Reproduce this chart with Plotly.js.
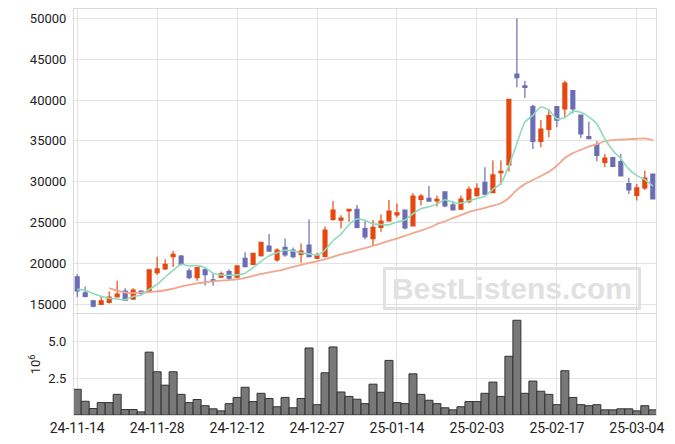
<!DOCTYPE html>
<html>
<head>
<meta charset="utf-8">
<script src="https://cdn.plot.ly/plotly-3.0.1.min.js"></script>
<style>html,body{margin:0;padding:0;background:#fff;}#chart{width:675px;height:444px;}</style>
</head>
<body>
<div id="chart"></div>
<script>
const dates = ["24-11-14","24-11-15","24-11-18","24-11-19","24-11-20","24-11-21","24-11-22","24-11-25","24-11-26","24-11-27",
"24-11-28","24-11-29","24-12-02","24-12-03","24-12-04","24-12-05","24-12-06","24-12-09","24-12-10","24-12-11",
"24-12-12","24-12-13","24-12-16","24-12-17","24-12-18","24-12-19","24-12-20","24-12-23","24-12-24","24-12-26",
"24-12-27","24-12-30","25-01-02","25-01-03","25-01-06","25-01-07","25-01-08","25-01-09","25-01-10","25-01-13",
"25-01-14","25-01-15","25-01-16","25-01-17","25-01-20","25-01-21","25-01-22","25-01-23","25-01-24","25-01-31",
"25-02-03","25-02-04","25-02-05","25-02-06","25-02-07","25-02-10","25-02-11","25-02-12","25-02-13","25-02-14",
"25-02-17","25-02-18","25-02-19","25-02-20","25-02-21","25-02-24","25-02-25","25-02-26","25-02-27","25-02-28",
"25-03-04","25-03-05","25-03-06"];

const openP = [18330,16380,15400,14950,15200,15890,16590,15610,16590,16550,
18860,19310,20800,20890,19070,18250,19200,17980,18290,18980,
18290,20610,19880,20940,22110,20410,21950,21630,21100,22240,
20620,20830,25370,25290,26430,26600,24260,23030,24390,25200,
25940,26520,24590,27830,27950,27650,28740,27150,26620,27560,
28290,29930,28660,31110,32050,43190,41750,39180,34940,36410,
39180,38900,41140,38160,35510,34530,32370,32940,32450,29760,
28330,29230,30940];

const highP = [18660,17150,15530,15950,16550,17850,16950,16950,16710,19310,
20810,20490,21500,21020,19390,19590,19550,18700,18980,19270,
19720,21340,21300,22640,23580,21830,23050,21950,22440,25370,
21300,24500,27620,25900,26640,27130,25160,25290,25980,27750,
27340,26560,28570,28480,29470,28300,28780,27640,28290,29400,
29800,31760,32580,32580,40130,50000,42370,39430,37550,38900,
39230,42370,41180,38210,37350,34940,33390,33020,33390,30450,
29720,31350,30940];

const lowP = [15850,15810,14630,14900,15080,15810,15410,15530,16140,16500,
18580,19190,19550,19720,18050,17850,17280,17250,18210,17970,
18210,19510,19800,20810,21420,20200,20810,20610,20080,20730,
20500,20700,25200,24260,25080,24260,22950,22130,23850,25080,
25610,24140,24550,27090,27540,26950,26870,26460,26540,27360,
28170,28380,28580,29600,31230,41550,40250,34000,34210,35430,
36650,37880,38370,35350,35190,32490,31760,31800,30620,28490,
27680,28980,27880];

const closeP = [16630,15940,14750,15400,15850,16220,15490,16710,16340,19190,
19310,19880,21100,19880,18250,19470,18600,17770,18700,18170,
19680,19590,21220,22560,21500,21630,21020,20810,21500,20810,
20900,24060,26520,25530,26600,24390,23240,24390,25160,26390,
26190,24350,28240,28240,27620,27830,27030,26540,27850,29070,
29190,28460,30820,31270,40090,42740,41550,34940,36450,38080,
37550,42080,38900,35840,35270,33230,32900,31880,30700,28980,
29230,30450,27880];

const ma5 = [16800,16700,16300,15950,15710,15630,15540,15930,16120,16790,
17410,18290,19160,19870,19680,19720,19460,18790,18560,18540,
18580,18780,19470,20240,20910,21300,21590,21500,21290,21150,
21010,21620,22760,23570,24720,25420,25260,24830,24760,24710,
25070,25300,26070,26680,26930,27250,27790,27450,27370,27660,
27940,28220,29080,29760,31970,34680,37290,38120,39150,38750,
37720,37820,38610,38490,37930,37060,35230,33820,32800,31540,
30740,30250,29450];

const ma20 = [null,null,null,null,16950,16650,16420,16380,16420,16480,
16560,16700,16900,17150,17350,17530,17680,17790,17880,17950,
18020,18200,18450,18700,18880,19070,19300,19550,19800,20050,
20250,20500,20800,21100,21350,21600,21850,22150,22450,22750,
23030,23350,23700,24000,24350,24800,25150,25550,25900,26300,
26550,26800,27050,27350,28000,29000,29700,30200,30700,31200,
31950,32900,33500,33900,34300,34600,34950,35100,35150,35200,
35250,35300,35100];

// volume in millions (axis title 10^6)
const volume = [1.74,0.93,0.44,0.84,0.84,1.40,0.37,0.37,0.21,4.26,
2.93,2.02,2.93,1.40,0.84,1.05,0.63,0.42,0.28,0.77,
1.19,1.88,0.91,1.47,1.12,0.56,1.19,0.49,1.12,4.54,
0.70,2.86,4.61,1.56,1.26,1.07,0.77,2.09,1.54,3.70,
0.84,0.77,2.79,1.40,1.00,0.77,0.49,0.35,0.56,0.91,
0.91,1.47,2.23,1.26,3.98,6.42,1.47,2.30,1.61,1.40,
0.70,3.00,1.19,0.70,0.63,0.70,0.35,0.35,0.42,0.42,
0.28,0.63,0.35];

const priceTicks = [15000,20000,25000,30000,35000,40000,45000,50000];
const volTicks = [2.5,5.0];
const xTickVals = [dates[0],dates[10],dates[20],dates[30],dates[40],dates[50],dates[60],dates[70]];

const UP = '#E5470F', DOWN = '#6A6DB3';
const GRID = '#e3e3e3', BOX = '#dadada';

const traces = [
  {type:'candlestick', x:dates, open:openP, high:highP, low:lowP, close:closeP,
   xaxis:'x', yaxis:'y', whiskerwidth:0,
   increasing:{line:{color:UP,width:1.2}, fillcolor:UP},
   decreasing:{line:{color:DOWN,width:1.2}, fillcolor:DOWN},
   hoverinfo:'skip'},
  {type:'scatter', mode:'lines', x:dates, y:ma20, xaxis:'x', yaxis:'y',
   line:{color:'#F2A68E', width:1.8, shape:'spline', smoothing:0.6}, hoverinfo:'skip'},
  {type:'scatter', mode:'lines', x:dates, y:ma5, xaxis:'x', yaxis:'y',
   line:{color:'#90DABC', width:1.6, shape:'spline', smoothing:0.6}, hoverinfo:'skip'},
  {type:'bar', x:dates, y:volume, xaxis:'x', yaxis:'y2',
   marker:{color:'#787878', line:{color:'#333333', width:1}}, hoverinfo:'skip'}
];

const tickFont = {family:'Roboto, sans-serif', size:13, color:'#222'};

const layout = {
  width:675, height:444,
  margin:{l:74, r:19, t:9, b:29},
  paper_bgcolor:'#fff', plot_bgcolor:'#fff',
  showlegend:false, hovermode:false, bargap:0,
  font:{family:'Roboto, sans-serif', color:'#222'},
  xaxis:{type:'category', anchor:'y2', range:[-0.4,72.4],
    tickmode:'array', tickvals:xTickVals, ticktext:xTickVals,
    tickfont:{family:'Roboto, sans-serif', size:14, color:'#222'},
    showgrid:true, gridcolor:GRID, gridwidth:1,
    showline:true, linecolor:BOX, linewidth:1, mirror:'all',
    ticks:'', automargin:false, rangeslider:{visible:false}, fixedrange:true, zeroline:false},
  yaxis:{domain:[0.252,1], range:[13950,51150], tickmode:'array', tickvals:priceTicks,
    tickformat:'d', tickfont:tickFont,
    showgrid:true, gridcolor:GRID, showline:true, linecolor:BOX, mirror:true,
    zeroline:false, automargin:false, ticks:'outside', ticklen:4, tickcolor:'rgba(0,0,0,0)'},
  yaxis2:{domain:[0,0.249], range:[0,6.85], tickmode:'array', tickvals:volTicks,
    tickformat:'.1f', tickfont:tickFont,
    title:{text:'10<sup>6</sup>', font:{family:'Roboto, sans-serif', size:13, color:'#222'}, standoff:4},
    showgrid:true, gridcolor:GRID, showline:true, linecolor:BOX, mirror:true,
    zeroline:false, automargin:false, ticks:'outside', ticklen:4, tickcolor:'rgba(0,0,0,0)'},
  annotations:[{
    xref:'paper', yref:'paper', x:0.7526, y:0.312, xanchor:'center', yanchor:'middle',
    text:'<b>BestListens.com</b>', showarrow:false,
    font:{family:'Liberation Sans, Arial, sans-serif', size:30, color:'#e1e1e1'},
    bordercolor:'#e1e1e1', borderwidth:3, borderpad:0, width:252, height:37
  }]
};

Plotly.newPlot('chart', traces, layout, {staticPlot:true, displayModeBar:false});
</script>
</body>
</html>
